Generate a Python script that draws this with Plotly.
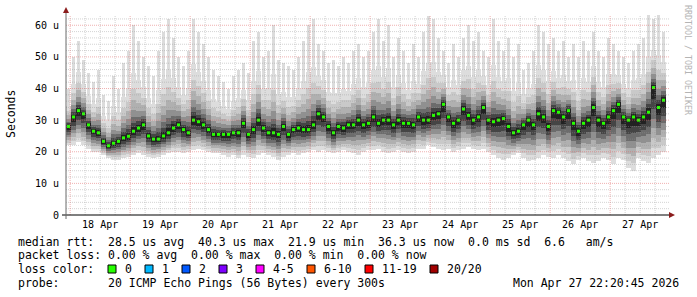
import datetime as dt
import plotly.graph_objects as go

# ---------------- data ----------------
START = dt.datetime(2026, 4, 17, 22, 20, 45)
STEP_HOURS = 2

median_us = [28, 31, 33, 32, 28.5, 26.5, 26, 23.3, 21.9, 22.7,
             23.3, 24.4, 24.9, 26.5, 27.5, 28.5, 25, 24, 24, 25,
             26, 27.5, 28.5, 27, 26, 30, 29.5, 28.5, 27, 25.5,
             25.5, 25.5, 25.5, 26, 26, 29, 25.5, 27, 30, 27.5,
             26, 26, 25.5, 28, 25.5, 27, 27.5, 27, 27, 28.5,
             32, 31, 28, 26, 28, 27.5, 28.5, 28.5, 30, 28.5,
             29, 31, 29, 30, 30, 28.5, 30, 29, 29, 28.5,
             31, 30, 30, 31.5, 32, 35, 31, 29, 30, 33.5,
             31.5, 30, 31, 34, 30, 29.5, 30, 30.5, 28, 26,
             26.5, 28.5, 30, 28.5, 32, 31, 28, 33, 32.5, 31,
             33, 29, 26.5, 29, 30, 34, 30, 29, 31, 33,
             35, 31, 30, 31, 30, 31, 32.5, 40.3, 34, 36.3]

max_us = [40, 50, 55, 49, 45, 42, 46, 38, 36, 44, 40,
          48, 52, 60, 55, 50, 47, 44, 52, 58, 62,
          56, 50, 47, 52, 62, 58, 54, 50, 46, 44,
          42, 40, 44, 46, 48, 45, 55, 58, 50, 52,
          60, 49, 48, 47, 46, 50, 55, 60, 62, 54,
          52, 48, 49, 47, 50, 48, 52, 54, 50, 52,
          58, 62, 55, 60, 50, 56, 52, 48, 54, 50,
          58, 63, 62, 56, 52, 48, 54, 50, 56, 60,
          55, 58, 52, 50, 62, 55, 52, 56, 50, 54,
          46, 48, 52, 60, 58, 54, 56, 52, 55, 50,
          54, 50, 55, 52, 58, 52, 50, 56, 54, 52,
          50, 48, 52, 54, 56, 64, 62, 64, 58]

min_us = [22, 22, 23, 22, 21, 20, 20, 19, 18, 17.5, 17.5,
          18, 18.5, 19, 19.5, 19, 18.5, 18, 18.5, 19, 19.5,
          20, 20, 19.5, 20, 20.5, 21, 20.5, 20, 19.5, 19.5,
          19, 18.5, 19, 18, 19, 18.5, 18, 19, 19.5, 19,
          18.5, 17.5, 18.5, 19, 19.5, 19, 19.5, 20, 20.5, 20,
          20.5, 20, 19.5, 20, 20.5, 20, 19.5, 19, 20, 20.5,
          20.5, 21, 20, 19.5, 20, 20.5, 20, 19.5, 20, 21,
          21, 22, 21.5, 21, 20.5, 21, 20, 20.5, 21, 21.5,
          21, 20.5, 21, 20, 19, 18, 17.5, 18, 19, 19.5,
          18, 17, 17.5, 18, 19, 18.5, 18, 19, 18, 17,
          16, 17.5, 18, 17, 16.5, 17, 18, 17.5, 16, 18,
          17.5, 15, 14, 18, 17, 16.5, 18, 19, 20]

y_tick_vals = [0, 10, 20, 30, 40, 50, 60]
y_tick_text = ["0", "10 u", "20 u", "30 u", "40 u", "50 u", "60 u"]

legend_line1 = "median rtt:  28.5 us avg  40.3 us max  21.9 us min  36.3 us now  0.0 ms sd  6.6   am/s"
legend_line2 = "packet loss: 0.00 % avg  0.00 % max  0.00 % min  0.00 % now"
legend_line4 = "probe:       20 ICMP Echo Pings (56 Bytes) every 300s"
stamp = "Mon Apr 27 22:20:45 2026"
loss_labels = ["0", "1", "2", "3", "4-5", "6-10", "11-19", "20/20"]
loss_colors = ["#26ff00", "#00b8ff", "#0059ff", "#7e00ff", "#ff00ff", "#ff5500", "#ff0000", "#a10000"]

# ---------------- geometry / style ----------------
W, H = 697, 297
PL, PR, PT, PB = 66, 669, 15, 215          # plot area in px
PW, PH = PR - PL, PB - PT
PX_MIN = 24                                 # minutes per px
Y_TOP = 63.25
MONO = "DejaVu Sans Mono"

def fx(px):
    return (px - PL) / PW

def fy(py):
    return (PB - py) / PH

n = len(median_us)
step = dt.timedelta(hours=STEP_HOURS)
xs = [START + step * (i + 0.5) for i in range(n)]
x_end = START + dt.timedelta(minutes=PX_MIN * PW)
bar_w = STEP_HOURS * 3600 * 1000

fig = go.Figure()

# smoke: thin outer spikes up to the max, then nested bands toward the median
fig.add_trace(go.Bar(
    x=xs, base=min_us, y=[hi - lo for hi, lo in zip(max_us, min_us)],
    width=bar_w * 0.45, marker=dict(color="#dcdcdc", line=dict(width=0)),
    hoverinfo="skip"))

bands = [  # (fraction down, fraction up, colour)
    (1.00, 0.55, "#dddddd"),
    (0.86, 0.40, "#c9c9c9"),
    (0.72, 0.29, "#b0b0b0"),
    (0.58, 0.20, "#909090"),
    (0.44, 0.13, "#6c6c6c"),
    (0.30, 0.08, "#454545"),
    (0.16, 0.04, "#222222"),
]
for fd, fu, col in bands:
    lo = [m - fd * (m - a) for m, a in zip(median_us, min_us)]
    hi = [m + fu * (b - m) for m, b in zip(median_us, max_us)]
    fig.add_trace(go.Bar(
        x=xs, base=lo, y=[h - l for h, l in zip(hi, lo)],
        width=bar_w, marker=dict(color=col, line=dict(width=0)),
        hoverinfo="skip"))

fig.add_trace(go.Scatter(
    x=xs, y=median_us, mode="markers",
    marker=dict(symbol="square", size=3, color="#26ff00", line=dict(width=0)),
    hoverinfo="skip"))

shapes = []
# horizontal grid (drawn above the smoke, as rrdtool does)
v = 2
while v < Y_TOP:
    major = v % 10 == 0
    shapes.append(dict(type="line", xref="paper", yref="y", x0=0, x1=1, y0=v, y1=v,
                       layer="above",
                       line=dict(color="rgba(225,100,100,0.5)" if major else "rgba(150,150,150,0.42)",
                                 width=1, dash="1px,1px")))
    v += 2
# vertical grid every 6 h, red at midnight
t = dt.datetime(2026, 4, 18, 0, 0, 0)
while t < x_end:
    major = t.hour == 0
    shapes.append(dict(type="line", xref="x", yref="paper", x0=t, x1=t, y0=0, y1=1,
                       layer="above",
                       line=dict(color="rgba(225,100,100,0.5)" if major else "rgba(150,150,150,0.42)",
                                 width=1, dash="1px,1px")))
    t += dt.timedelta(hours=6)

# axes and arrows
shapes.append(dict(type="line", xref="paper", yref="paper", x0=fx(62), x1=fx(670),
                   y0=0, y1=0, layer="above", line=dict(color="#000000", width=1)))
shapes.append(dict(type="line", xref="paper", yref="paper", x0=0, x1=0,
                   y0=fy(219), y1=fy(10), layer="above", line=dict(color="#6a6a6a", width=1)))
shapes.append(dict(type="path", xref="paper", yref="paper", layer="above",
                   path=f"M {fx(669)} {fy(212)} L {fx(675)} {fy(215)} L {fx(669)} {fy(218)} Z",
                   fillcolor="#8b1c1c", line=dict(width=0)))
shapes.append(dict(type="path", xref="paper", yref="paper", layer="above",
                   path=f"M {fx(63)} {fy(13)} L {fx(66)} {fy(7)} L {fx(69)} {fy(13)} Z",
                   fillcolor="#8b1c1c", line=dict(width=0)))

annotations = []

def text(px, py, s, size=11.5, anchor="left", color="#000000", angle=0):
    annotations.append(dict(xref="paper", yref="paper", x=fx(px), y=fy(py), text=s,
                            showarrow=False, xanchor=anchor, yanchor="middle",
                            textangle=angle,
                            font=dict(family=MONO, size=size, color=color)))

sp = lambda s: s.replace(" ", "\u00a0")
text(16, 241.5, sp(legend_line1))
text(16, 255, sp(legend_line2))
text(16, 268.5, sp("loss color:"))
text(16, 283, sp(legend_line4))
text(681, 283, sp(stamp), anchor="right")
text(11, 114, "Seconds", angle=-90, anchor="center")
text(688, 60, sp("RRDTOOL / TOBI OETIKER"), size=8.3, color="#b4b4b4", angle=90, anchor="center")

# y tick labels placed like rrdtool (right edge ~6 px left of the axis)
for tv, tt in zip(y_tick_vals, y_tick_text):
    annotations.append(dict(xref="paper", yref="y", x=fx(60.5), y=tv, text=sp(tt),
                            showarrow=False, xanchor="right", yanchor="middle",
                            font=dict(family=MONO, size=10, color="#000000")))

box_x = [108, 145, 182, 219, 256, 307, 365, 430]
for bx, lab, col in zip(box_x, loss_labels, loss_colors):
    shapes.append(dict(type="rect", xref="paper", yref="paper",
                       x0=fx(bx), x1=fx(bx + 8), y0=fy(273), y1=fy(265),
                       fillcolor=col, line=dict(color="#000000", width=1), layer="above"))
    text(bx + 15, 268.5, lab)

fig.update_layout(
    width=W, height=H,
    margin=dict(l=PL, r=W - PR, t=PT, b=H - PB, pad=0),
    paper_bgcolor="#ffffff", plot_bgcolor="#ffffff",
    barmode="overlay", bargap=0, showlegend=False, hovermode=False,
    shapes=shapes, annotations=annotations,
    xaxis=dict(range=[START, x_end], type="date", showgrid=False, zeroline=False,
               showline=False, ticks="", tick0="2026-04-18", dtick=86400000,
               tickformat="%d %b", ticklabelmode="period", ticklabelstandoff=2,
               tickfont=dict(family=MONO, size=10, color="#000000")),
    yaxis=dict(range=[0, Y_TOP], showgrid=False, zeroline=False, showline=False,
               ticks="", showticklabels=False),
)

fig.write_html("out.html")
